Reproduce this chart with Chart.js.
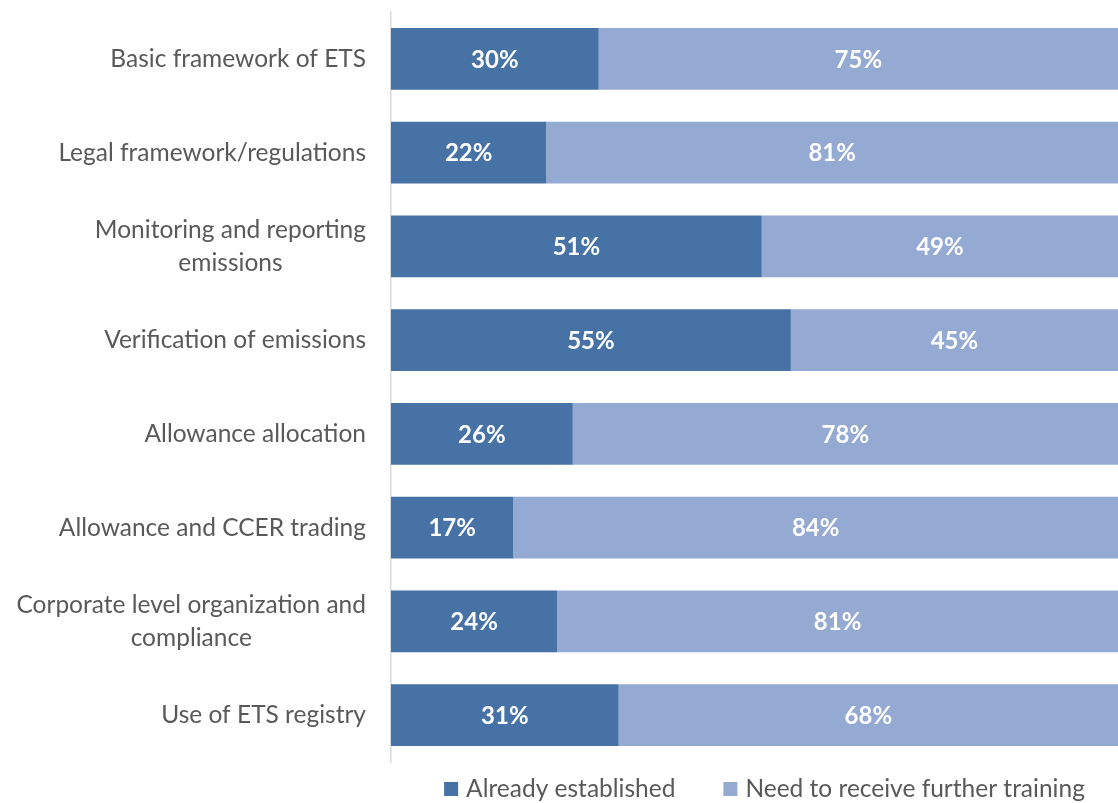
<!DOCTYPE html>
<html>
<head>
<meta charset="utf-8">
<script src="https://cdn.jsdelivr.net/npm/chart.js@4/dist/chart.umd.min.js"></script>
<style>
  html, body { margin: 0; padding: 0; background: #fff; }
  #wrap { width: 1118px; height: 803px; }
</style>
</head>
<body>
<div id="wrap"><canvas id="c" width="1118" height="803"></canvas></div>
<script>
const categories = [
  "Basic framework of ETS",
  "Legal framework/regulations",
  ["Monitoring and reporting", "emissions"],
  "Verification of emissions",
  "Allowance allocation",
  "Allowance and CCER trading",
  ["Corporate level organization and", "compliance"],
  "Use of ETS registry"
];
const established = [30, 22, 51, 55, 26, 17, 24, 31];
const training = [75, 81, 49, 45, 78, 84, 81, 68];
const seriesNames = ["Already established", "Need to receive further training"];
const seriesColors = ['#4672A6', '#95AAD2'];

// 100% stacked shares derived from the values
const totals = established.map((v, i) => v + training[i]);
const estShare = established.map((v, i) => v / totals[i] * 100);
const trnShare = training.map((v, i) => v / totals[i] * 100);
const rawValues = [established, training];

const FONT = "Lato, 'Open Sans', sans-serif";
const TEXT = '#595959';

const labelPlugin = {
  id: 'segLabels',
  afterDatasetsDraw(chart) {
    const ctx = chart.ctx;
    ctx.save();
    ctx.fillStyle = '#ffffff';
    ctx.font = "bold 24px " + FONT;
    ctx.textAlign = 'center';
    ctx.textBaseline = 'middle';
    chart.data.datasets.forEach((ds, di) => {
      const meta = chart.getDatasetMeta(di);
      meta.data.forEach((bar, i) => {
        const p = bar.getProps(['x', 'y', 'base'], true);
        const cx = (p.x + p.base) / 2;
        ctx.fillText(rawValues[di][i] + '%', cx, p.y + 1);
      });
    });
    ctx.restore();
  }
};

// Category labels: right-aligned block, multi-line lines centred within the block
const catLabelPlugin = {
  id: 'catLabels',
  afterDraw(chart) {
    const ctx = chart.ctx;
    const y = chart.scales.y;
    const right = chart.chartArea.left - 25;
    const lh = 33;
    ctx.save();
    ctx.font = "24.5px " + FONT;
    ctx.fillStyle = TEXT;
    ctx.textBaseline = 'middle';
    chart.data.labels.forEach((lab, i) => {
      const lines = Array.isArray(lab) ? lab : [lab];
      const cy = y.getPixelForValue(i);
      const widths = lines.map(l => ctx.measureText(l).width);
      const maxW = Math.max(...widths);
      const centerX = right - maxW / 2;
      ctx.textAlign = 'center';
      lines.forEach((l, k) => {
        const ly = cy + (k - (lines.length - 1) / 2) * lh;
        ctx.fillText(l, centerX, ly);
      });
    });
    ctx.restore();
  }
};

const legendPlugin = {
  id: 'customLegend',
  afterDraw(chart) {
    const ctx = chart.ctx;
    const ca = chart.chartArea;
    const box = 14, gapText = 8, gapItem = 48;
    const ly = 789;
    ctx.save();
    ctx.font = "24.5px " + FONT;
    ctx.textBaseline = 'middle';
    ctx.textAlign = 'left';
    const w = seriesNames.map(n => ctx.measureText(n).width);
    const total = w.reduce((a, b) => a + b, 0) + seriesNames.length * (box + gapText) + gapItem * (seriesNames.length - 1);
    let x = (ca.left + ca.right) / 2 + 10 - total / 2;
    seriesNames.forEach((n, i) => {
      ctx.fillStyle = seriesColors[i];
      ctx.fillRect(x, ly - box / 2, box, box);
      x += box + gapText;
      ctx.fillStyle = TEXT;
      ctx.fillText(n, x, ly);
      x += w[i] + gapItem;
    });
    ctx.restore();
  }
};

new Chart(document.getElementById('c'), {
  type: 'bar',
  data: {
    labels: categories,
    datasets: [
      { label: seriesNames[0], data: estShare, backgroundColor: seriesColors[0], barPercentage: 0.66, categoryPercentage: 1 },
      { label: seriesNames[1], data: trnShare, backgroundColor: seriesColors[1], barPercentage: 0.66, categoryPercentage: 1 }
    ]
  },
  options: {
    indexAxis: 'y',
    responsive: false,
    animation: false,
    layout: { padding: { top: 12, right: 0, left: 0, bottom: 41 } },
    plugins: {
      tooltip: { enabled: false },
      legend: { display: false }
    },
    scales: {
      x: {
        stacked: true,
        min: 0,
        max: 100,
        display: false
      },
      y: {
        stacked: true,
        grid: { display: false, drawTicks: false },
        border: { display: true, color: '#D9D9D9', width: 1.5 },
        ticks: { display: false },
        afterFit(s) { s.width = 391; }
      }
    }
  },
  plugins: [labelPlugin, catLabelPlugin, legendPlugin]
});
</script>
</body>
</html>
